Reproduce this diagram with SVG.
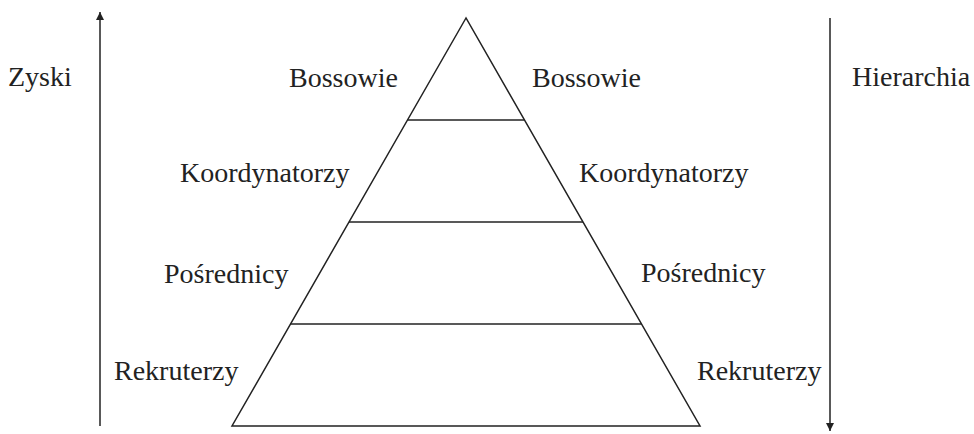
<svg xmlns="http://www.w3.org/2000/svg" width="974" height="434" viewBox="0 0 974 434">
<style>
text{font-family:"Liberation Serif","Times New Roman",serif;font-size:28px;fill:#222}
.ln{stroke:#222;stroke-width:1.5;fill:none}
</style>
<defs>
<marker id="ah" viewBox="0 0 8 10" refX="8" refY="5" markerWidth="8" markerHeight="10" markerUnits="userSpaceOnUse" orient="auto">
<path d="M0,1 L8,5 L0,9 Z" fill="#222"/>
</marker>
</defs>
<rect width="974" height="434" fill="#fff"/>
<g id="pyramid">
<polygon class="ln" points="466,18 232,426 700,426"/>
<line class="ln" x1="407.5" y1="120" x2="524.5" y2="120"/>
<line class="ln" x1="349" y1="222" x2="583" y2="222"/>
<line class="ln" x1="290.5" y1="324" x2="641.5" y2="324"/>
</g>
<g id="connectors">
<line class="ln" x1="100" y1="426" x2="100" y2="12" marker-end="url(#ah)"/>
<line class="ln" x1="830" y1="18" x2="830" y2="431" marker-end="url(#ah)"/>
</g>
<g id="labels-left">
<text x="8" y="86">Zyski</text>
<text x="289" y="87">Bossowie</text>
<text x="180" y="182">Koordynatorzy</text>
<text x="164" y="283">Pośrednicy</text>
<text x="114" y="380">Rekruterzy</text>
</g>
<g id="labels-right">
<text x="532" y="87">Bossowie</text>
<text x="579" y="182">Koordynatorzy</text>
<text x="641" y="282">Pośrednicy</text>
<text x="697" y="380">Rekruterzy</text>
<text x="852" y="86">Hierarchia</text>
</g>
</svg>
